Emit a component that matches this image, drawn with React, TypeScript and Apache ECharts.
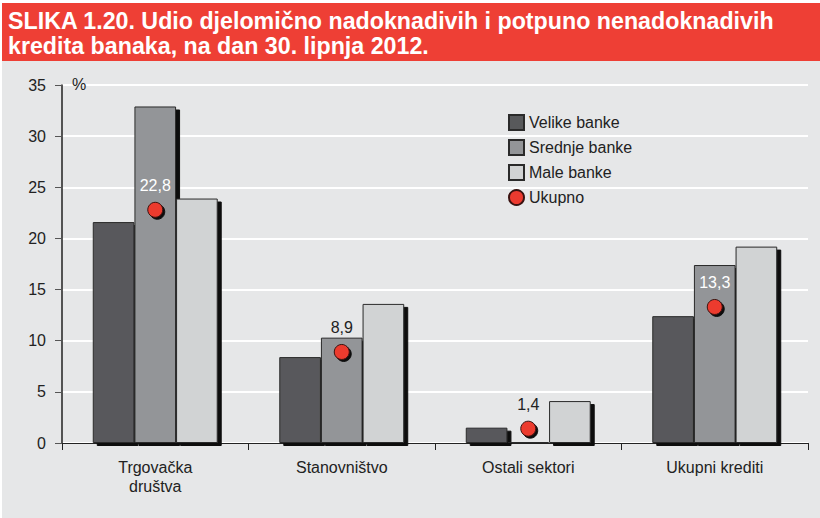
import React, { useEffect, useRef } from "react";
import * as echarts from "echarts";

const categories = ["Trgovačka\ndruštva", "Stanovništvo", "Ostali sektori", "Ukupni krediti"];
const velike = [21.6, 8.4, 1.5, 12.4];
const srednje = [32.9, 10.3, 0.1, 17.4];
const male = [23.9, 13.6, 4.1, 19.2];
const ukupno = [22.8, 8.9, 1.4, 13.3];
const yTicks = [0, 5, 10, 15, 20, 25, 30, 35];
const titleLines = [
  "SLIKA 1.20. Udio djelomično nadoknadivih i potpuno nenadoknadivih",
  "kredita banaka, na dan 30. lipnja 2012.",
];

const FONT = "'Liberation Sans', Arial, sans-serif";

export default function App() {
  const ref = useRef<HTMLDivElement>(null);
  useEffect(() => {
    if (!ref.current) return;
    const chart = echarts.init(ref.current, undefined, { renderer: "svg" });
    const barStyle = (color: string) => ({
      color,
      borderColor: "#2a2a2a",
      borderWidth: 1,
      shadowColor: "#111",
      shadowOffsetX: 4,
      shadowOffsetY: 3,
      shadowBlur: 0,
    });
    const labelColorsOnBar = ["#ffffff", "#222222", "#222222", "#ffffff"];
    chart.setOption({
      animation: false,
      backgroundColor: "#e6e7e8",
      textStyle: { fontFamily: FONT },
      graphic: [
        { type: "rect", shape: { x: 0, y: 0, width: 820, height: 518 }, style: { fill: "#ffffff" }, z: -10, silent: true },
        { type: "rect", shape: { x: 2, y: 3, width: 818, height: 515 }, style: { fill: "#e6e7e8" }, z: -9, silent: true },
        { type: "rect", shape: { x: 2, y: 3, width: 818, height: 58 }, style: { fill: "#ee3f35" }, z: 0 },
        {
          type: "text", x: 8, y: 10, scaleX: 1.01,
          style: { text: titleLines[0], fill: "#ffffff", font: `bold 23px ${FONT}` }, z: 1,
        },
        {
          type: "text", x: 8, y: 35, scaleX: 1.01,
          style: { text: titleLines[1], fill: "#ffffff", font: `bold 23px ${FONT}` }, z: 1,
        },
        {
          type: "text", x: 72, y: 76,
          style: { text: "%", fill: "#222", font: `16px ${FONT}` }, z: 1,
        },
      ],
      grid: { left: 62, right: 12, top: 85, bottom: 75 },
      legend: {
        orient: "vertical",
        left: 503,
        top: 109,
        itemWidth: 15,
        itemHeight: 15,
        itemGap: 8,
        textStyle: { fontSize: 16, color: "#222", fontFamily: FONT },
        data: [
          { name: "Velike banke", icon: "rect" },
          { name: "Srednje banke", icon: "rect" },
          { name: "Male banke", icon: "rect" },
          { name: "Ukupno", icon: "circle" },
        ],
      },
      xAxis: {
        type: "category",
        data: categories,
        axisLine: { lineStyle: { color: "#222", width: 1 } },
        axisTick: { show: true, length: 7, lineStyle: { color: "#222" } },
        axisLabel: { fontSize: 16, color: "#222", margin: 15, lineHeight: 19, fontFamily: FONT },
        splitLine: { show: false },
      },
      yAxis: {
        type: "value",
        min: 0,
        max: 35,
        interval: 5,
        axisLine: { show: true, lineStyle: { color: "#222", width: 1.5 } },
        axisTick: { show: true, length: 7, lineStyle: { color: "#555" } },
        axisLabel: {
          fontSize: 16, color: "#222", margin: 16, fontFamily: FONT,
          formatter: (v: number) => (yTicks.includes(v) ? String(v) : ""),
        },
        splitLine: { show: true, lineStyle: { color: "#ffffff", width: 2 } },
      },
      series: [
        { name: "Velike banke", type: "bar", data: velike, barCategoryGap: "33%", barGap: "0%", itemStyle: barStyle("#58595b") },
        { name: "Srednje banke", type: "bar", data: srednje, barGap: "0%", itemStyle: barStyle("#939598") },
        { name: "Male banke", type: "bar", data: male, barGap: "0%", itemStyle: barStyle("#d1d3d4") },
        {
          name: "Ukupno",
          type: "scatter",
          symbol: "circle",
          symbolSize: 15,
          z: 5,
          itemStyle: {
            color: "#ec3a2f",
            borderColor: "#3a1210",
            borderWidth: 1,
            shadowColor: "#111",
            shadowOffsetX: 2,
            shadowOffsetY: 2,
            shadowBlur: 0,
            opacity: 1,
          },
          data: ukupno.map((v, i) => ({
            value: v,
            label: { color: labelColorsOnBar[i] },
          })),
          label: {
            show: true,
            position: "top",
            distance: 8,
            fontSize: 16,
            fontFamily: FONT,
            formatter: (p: any) => String(p.value).replace(".", ","),
          },
        },
      ],
    });
    return () => chart.dispose();
  }, []);
  return (
    <div
      ref={ref}
      style={{ position: "absolute", left: 0, top: 0, width: 820, height: 518 }}
    />
  );
}
